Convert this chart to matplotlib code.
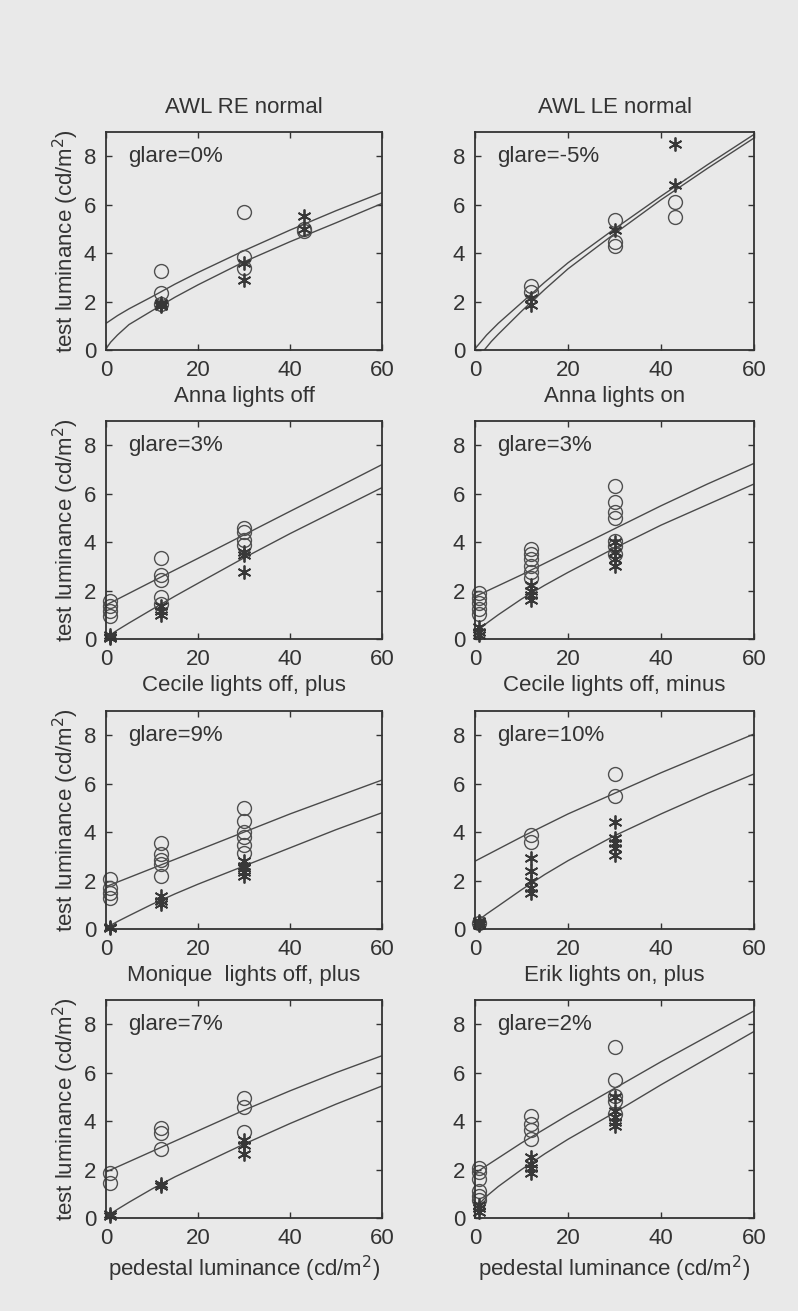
import matplotlib
matplotlib.use("Agg")
import matplotlib.pyplot as plt

plt.rcParams['font.family'] = ['Liberation Sans', 'DejaVu Sans']

# ---- data ----
fit_x = [0, 10, 20, 30, 40, 50, 60]
fit_x_fine = [0, 2.5, 5, 10, 15, 20, 30, 40, 50, 60]

# AWL RE normal / Anna lights off
p1_circ_x = [12, 12, 12, 30, 30, 30, 43, 43]
p1_circ_y = [3.25, 2.35, 1.9, 5.68, 3.85, 3.4, 5.0, 4.9]
p1_star_x = [12, 12, 12, 30, 30, 43, 43]
p1_star_y = [1.95, 1.85, 1.8, 3.6, 2.9, 5.55, 5.0]
p1_up_x = [0, 2.5, 5, 10, 15, 20, 30, 40, 50, 60]
p1_up_y = [1.1, 1.42, 1.7, 2.2, 2.72, 3.2, 4.1, 4.95, 5.75, 6.5]
p1_lo_x = [0, 1, 2.5, 5, 10, 15, 20, 30, 40, 50, 60]
p1_lo_y = [0.05, 0.32, 0.62, 1.05, 1.62, 2.18, 2.69, 3.64, 4.47, 5.25, 6.05]

# AWL LE normal / Anna lights on
p2_circ_x = [12, 12, 30, 30, 30, 43, 43]
p2_circ_y = [2.65, 2.4, 5.35, 4.45, 4.3, 6.1, 5.5]
p2_star_x = [12, 12, 30, 43, 43]
p2_star_y = [2.15, 1.85, 4.95, 8.5, 6.8]
p2_up_x = [0, 2.5, 5, 10, 15, 20, 30, 40, 50, 60]
p2_up_y = [0.05, 0.62, 1.1, 1.95, 2.8, 3.6, 5.0, 6.35, 7.65, 8.9]
p2_lo_x = [2, 3.5, 5, 10, 15, 20, 30, 40, 50, 60]
p2_lo_y = [0.0, 0.35, 0.65, 1.6, 2.5, 3.35, 4.8, 6.2, 7.5, 8.75]

# Cecile lights off, plus
p3_circ_x = [0.8] * 4 + [12] * 5 + [30] * 4
p3_circ_y = [1.55, 1.35, 1.15, 0.95, 3.35, 2.65, 2.45, 1.75, 1.45, 4.6, 4.4, 4.1, 3.9]
p3_star_x = [0.8] * 3 + [12] * 3 + [30] * 3
p3_star_y = [0.15, 0.1, 0.05, 1.35, 1.15, 1.0, 3.6, 3.45, 2.75]
p3_up_x = fit_x
p3_up_y = [1.4, 2.37, 3.33, 4.3, 5.27, 6.23, 7.2]
p3_lo_x = fit_x_fine
p3_lo_y = [0.05, 0.37, 0.66, 1.22, 1.77, 2.3, 3.35, 4.35, 5.3, 6.25]

# Cecile lights off, minus
p4_circ_x = [0.8] * 5 + [12] * 6 + [30] * 7
p4_circ_y = [1.9, 1.7, 1.5, 1.25, 1.05, 3.7, 3.5, 3.3, 3.0, 2.75, 2.5,
             6.3, 5.65, 5.25, 5.0, 4.05, 3.85, 3.5]
p4_star_x = [0.8] * 3 + [12] * 4 + [30] * 4
p4_star_y = [0.5, 0.3, 0.15, 2.25, 2.0, 1.8, 1.6, 4.0, 3.6, 3.3, 3.0]
p4_up_x = fit_x
p4_up_y = [1.75, 2.65, 3.6, 4.55, 5.5, 6.4, 7.25]
p4_lo_x = fit_x_fine
p4_lo_y = [0.25, 0.65, 1.0, 1.65, 2.22, 2.75, 3.75, 4.7, 5.55, 6.4]

# Monique lights off, plus
p5_circ_x = [0.8] * 4 + [12] * 5 + [30] * 6
p5_circ_y = [2.05, 1.7, 1.5, 1.3, 3.55, 3.1, 2.85, 2.7, 2.2, 5.0, 4.45, 4.0, 3.8, 3.45, 3.15]
p5_star_x = [0.8] * 2 + [12] * 3 + [30] * 5
p5_star_y = [0.1, 0.05, 1.35, 1.15, 1.05, 2.8, 2.6, 2.5, 2.35, 2.2]
p5_up_x = fit_x
p5_up_y = [1.75, 2.5, 3.25, 4.0, 4.75, 5.45, 6.15]
p5_lo_x = fit_x_fine
p5_lo_y = [0.05, 0.31, 0.55, 1.02, 1.45, 1.85, 2.6, 3.35, 4.1, 4.8]

# Erik lights on, plus
p6_circ_x = [0.8, 12, 12, 30, 30]
p6_circ_y = [0.25, 3.9, 3.6, 6.4, 5.5]
p6_star_x = [0.8] * 4 + [12] * 5 + [30] * 5
p6_star_y = [0.35, 0.25, 0.2, 0.15, 2.95, 2.4, 2.0, 1.7, 1.5, 4.4, 3.75, 3.55, 3.35, 3.05]
p6_up_x = fit_x
p6_up_y = [2.8, 3.8, 4.75, 5.6, 6.45, 7.25, 8.05]
p6_lo_x = fit_x_fine
p6_lo_y = [0.25, 0.62, 0.95, 1.62, 2.25, 2.82, 3.85, 4.75, 5.6, 6.4]

# bottom left
p7_circ_x = [0.8, 0.8, 12, 12, 12, 30, 30, 30]
p7_circ_y = [1.85, 1.45, 3.7, 3.5, 2.85, 4.95, 4.6, 3.55]
p7_star_x = [0.8, 0.8, 12, 12, 30, 30, 30]
p7_star_y = [0.18, 0.08, 1.4, 1.32, 3.2, 3.0, 2.65]
p7_up_x = fit_x
p7_up_y = [1.9, 2.75, 3.6, 4.45, 5.25, 6.0, 6.7]
p7_lo_x = fit_x_fine
p7_lo_y = [0.05, 0.36, 0.65, 1.2, 1.7, 2.15, 3.05, 3.9, 4.7, 5.45]

# bottom right
p8_circ_x = [0.8] * 6 + [12] * 4 + [30] * 5
p8_circ_y = [2.05, 1.9, 1.6, 1.1, 0.9, 0.75, 4.2, 3.9, 3.65, 3.25, 7.05, 5.7, 5.05, 4.85, 4.3]
p8_star_x = [0.8] * 3 + [12] * 4 + [30] * 5
p8_star_y = [0.55, 0.4, 0.25, 2.5, 2.25, 2.05, 1.85, 5.0, 4.4, 4.15, 3.95, 3.8]
p8_up_x = fit_x
p8_up_y = [1.85, 3.1, 4.25, 5.35, 6.45, 7.5, 8.55]
p8_lo_x = fit_x_fine
p8_lo_y = [0.4, 0.9, 1.3, 2.0, 2.65, 3.25, 4.35, 5.5, 6.6, 7.7]

glare = ["glare=0%", "glare=-5%", "glare=3%", "glare=3%",
         "glare=9%", "glare=10%", "glare=7%", "glare=2%"]
xlabels = ["Anna lights off", "Anna lights on",
           "Cecile lights off, plus", "Cecile lights off, minus",
           "Monique  lights off, plus", "Erik lights on, plus",
           "pedestal luminance (cd/m$^2$)", "pedestal luminance (cd/m$^2$)"]
titles = ["AWL RE normal", "AWL LE normal"]
ylab = "test luminance (cd/m$^2$)"

panels = [
    (p1_circ_x, p1_circ_y, p1_star_x, p1_star_y, p1_up_x, p1_up_y, p1_lo_x, p1_lo_y),
    (p2_circ_x, p2_circ_y, p2_star_x, p2_star_y, p2_up_x, p2_up_y, p2_lo_x, p2_lo_y),
    (p3_circ_x, p3_circ_y, p3_star_x, p3_star_y, p3_up_x, p3_up_y, p3_lo_x, p3_lo_y),
    (p4_circ_x, p4_circ_y, p4_star_x, p4_star_y, p4_up_x, p4_up_y, p4_lo_x, p4_lo_y),
    (p5_circ_x, p5_circ_y, p5_star_x, p5_star_y, p5_up_x, p5_up_y, p5_lo_x, p5_lo_y),
    (p6_circ_x, p6_circ_y, p6_star_x, p6_star_y, p6_up_x, p6_up_y, p6_lo_x, p6_lo_y),
    (p7_circ_x, p7_circ_y, p7_star_x, p7_star_y, p7_up_x, p7_up_y, p7_lo_x, p7_lo_y),
    (p8_circ_x, p8_circ_y, p8_star_x, p8_star_y, p8_up_x, p8_up_y, p8_lo_x, p8_lo_y),
]

bg = '#e9e9e9'
ink = '#333333'
W, H = 798, 1311
fig = plt.figure(figsize=(W / 100, H / 100), dpi=100, facecolor=bg)

col_left = [106, 475]
col_w = [276, 279]
row_top = [132, 421, 711, 1000]
ax_h = 218

for i, (cx, cy, sx, sy, ux, uy, lx, ly) in enumerate(panels):
    r, c = divmod(i, 2)
    ax = fig.add_axes([col_left[c] / W, 1 - (row_top[r] + ax_h) / H, col_w[c] / W, ax_h / H])
    ax.set_facecolor(bg)
    ax.plot(ux, uy, color='#4a4a4a', lw=1.0)
    ax.plot(lx, ly, color='#4a4a4a', lw=1.0)
    ax.plot(cx, cy, 'o', ms=10, mfc='none', mec='#505050', mew=1.0, clip_on=False)
    ax.plot(sx, sy, ls='none', marker=(6, 2, 0), ms=10, mec='#383838', mew=1.3, clip_on=False)
    ax.set_xlim(0, 60)
    ax.set_ylim(0, 9)
    ax.set_xticks([0, 20, 40, 60])
    ax.set_yticks([0, 2, 4, 6, 8])
    ax.tick_params(direction='in', top=True, right=True, length=4, width=1,
                   colors=ink, labelsize=16, pad=7)
    for s in ax.spines.values():
        s.set_color(ink)
        s.set_linewidth(1.3)
    ax.text(4.8, 7.75, glare[i], fontsize=16, color=ink)
    ax.set_xlabel(xlabels[i], fontsize=16, color=ink, labelpad=4)
    if c == 0:
        ax.set_ylabel(ylab, fontsize=16, color=ink, labelpad=2)
    if r == 0:
        ax.set_title(titles[c], fontsize=16, color=ink, pad=14)

fig.savefig("out.png", dpi=100, facecolor=bg)
